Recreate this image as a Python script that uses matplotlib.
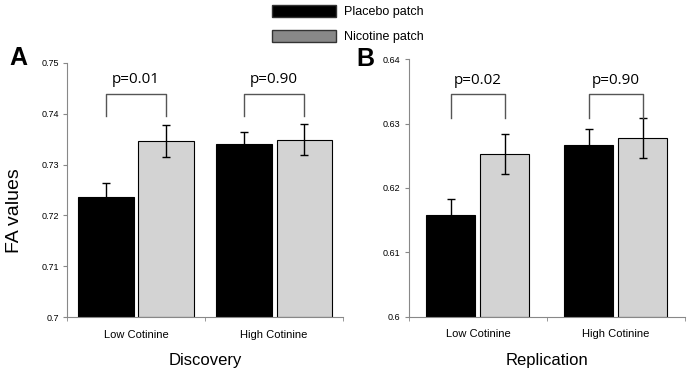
import matplotlib
matplotlib.use("Agg")
import matplotlib.pyplot as plt
from matplotlib.patches import Patch
import numpy as np

plt.rcParams['font.family'] = ['Liberation Sans', 'DejaVu Sans']

categories = ["Low Cotinine", "High Cotinine"]
series = ["Placebo patch", "Nicotine patch"]

disc_placebo = [0.7236, 0.7340]
disc_nicotine = [0.7346, 0.7349]
disc_placebo_err = [0.0027, 0.0025]
disc_nicotine_err = [0.0031, 0.0031]
disc_pvals = ["p=0.01", "p=0.90"]

rep_placebo = [0.6158, 0.6266]
rep_nicotine = [0.6253, 0.6278]
rep_placebo_err = [0.0025, 0.0025]
rep_nicotine_err = [0.0031, 0.0031]
rep_pvals = ["p=0.02", "p=0.90"]

disc_yticks = [0.70, 0.71, 0.72, 0.73, 0.74, 0.75]
disc_yticklabels = ["0.7", "0.71", "0.72", "0.73", "0.74", "0.75"]
rep_yticks = [0.60, 0.61, 0.62, 0.63, 0.64]
rep_yticklabels = ["0.6", "0.61", "0.62", "0.63", "0.64"]

fig = plt.figure(figsize=(6.92, 3.74), dpi=100)

def panel(rect, placebo, nicotine, perr, nerr, pvals, yticks, ylabels,
          xlabel, bw, gap, br_top, br_bot, ptxt, show_ylabel):
    ax = fig.add_axes(rect)
    x = np.arange(len(categories))
    off = bw / 2 + gap / 2
    ax.bar(x - off, np.array(placebo) - yticks[0], bw, bottom=yticks[0],
           color="black", edgecolor="black", linewidth=0.8, zorder=2)
    ax.bar(x + off, np.array(nicotine) - yticks[0], bw, bottom=yticks[0],
           color="#d3d3d3", edgecolor="black", linewidth=0.8, zorder=2)
    ax.errorbar(x - off, placebo, yerr=perr, fmt="none", ecolor="black",
                elinewidth=1.0, capsize=3, capthick=1.0, zorder=3)
    ax.errorbar(x + off, nicotine, yerr=nerr, fmt="none", ecolor="black",
                elinewidth=1.0, capsize=3, capthick=1.0, zorder=3)
    for i in range(len(categories)):
        xl, xr = x[i] - off, x[i] + off
        ax.plot([xl, xl, xr, xr], [br_bot, br_top, br_top, br_bot],
                color="#555555", lw=1.0, zorder=3)
        ax.text(x[i], ptxt, pvals[i], ha="center", va="center",
                fontsize=11, family=["Open Sans", "DejaVu Sans"])
    ax.set_xlim(-0.5, 1.5)
    ax.set_ylim(yticks[0], yticks[-1])
    ax.set_yticks(yticks)
    ax.set_yticklabels(ylabels, fontsize=6.5)
    ax.set_xticks(x)
    ax.set_xticklabels(categories, fontsize=8)
    ax.set_xticks([-0.5, 0.5, 1.5], minor=True)
    ax.tick_params(axis="x", which="major", length=0, pad=9)
    ax.tick_params(axis="x", which="minor", length=3, color="#888888")
    ax.tick_params(axis="y", length=3, color="#888888", pad=3)
    for s in ["top", "right"]:
        ax.spines[s].set_visible(False)
    for s in ["left", "bottom"]:
        ax.spines[s].set_color("#888888")
        ax.spines[s].set_linewidth(0.8)
    ax.set_xlabel(xlabel, fontsize=12, labelpad=10)
    if show_ylabel:
        ax.set_ylabel("FA values", fontsize=14, labelpad=10)
        ax.yaxis.set_label_coords(-0.16, 0.42)
    return ax

axA = panel([0.0968, 0.1524, 0.399, 0.6792], disc_placebo, disc_nicotine,
            disc_placebo_err, disc_nicotine_err, disc_pvals, disc_yticks,
            disc_yticklabels, "Discovery", 0.40, 0.036,
            0.7438, 0.7396, 0.7467, True)
axB = panel([0.591, 0.153, 0.3985, 0.689], rep_placebo, rep_nicotine,
            rep_placebo_err, rep_nicotine_err, rep_pvals, rep_yticks,
            rep_yticklabels, "Replication", 0.356, 0.036,
            0.6346, 0.6308, 0.6366, False)

fig.text(9 / 692, 1 - 58 / 374, "A", fontsize=18, fontweight="bold", va="center", ha="left")
fig.text(356 / 692, 1 - 59 / 374, "B", fontsize=18, fontweight="bold", va="center", ha="left")

handles = [Patch(facecolor="black", edgecolor="#333333"),
           Patch(facecolor="#888888", edgecolor="#333333")]
fig.legend(handles, series, loc="upper left", bbox_to_anchor=(272 / 692, 1 - 5 / 374),
           frameon=False, fontsize=9, handlelength=5.1, handleheight=1.05,
           handletextpad=0.7, labelspacing=0.95, borderpad=0, borderaxespad=0)

fig.savefig("out.png", dpi=100)
